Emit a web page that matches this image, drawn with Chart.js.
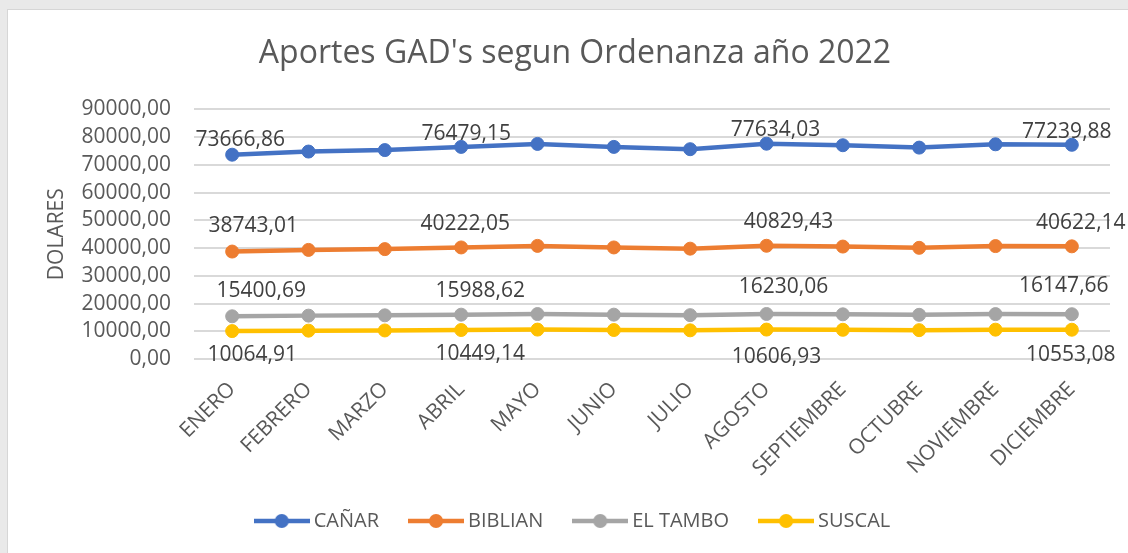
<!DOCTYPE html>
<html>
<head>
<meta charset="utf-8">
<script src="https://cdn.jsdelivr.net/npm/chart.js@4/dist/chart.umd.min.js"></script>
<style>
  html, body { margin: 0; padding: 0; width: 1128px; height: 553px; overflow: hidden; background: #e9e9e9; }
  #box { position: absolute; left: 7px; top: 9px; width: 1140px; height: 560px; background: #fff; border: 1px solid #d6d6d6; }
  #c { position: absolute; left: 0; top: 0; }
</style>
</head>
<body>
<div id="box"></div>
<canvas id="c" width="1142" height="553"></canvas>
<script>
const months = ['ENERO', 'FEBRERO', 'MARZO', 'ABRIL', 'MAYO', 'JUNIO', 'JULIO', 'AGOSTO', 'SEPTIEMBRE', 'OCTUBRE', 'NOVIEMBRE', 'DICIEMBRE'];
const canar   = [73666.86, 74800, 75330, 76479.15, 77550, 76480, 75650, 77634.03, 77080, 76220, 77420, 77239.88];
const biblian = [38743.01, 39340, 39620, 40222.05, 40790, 40220, 39790, 40829.43, 40540, 40090, 40720, 40622.14];
const tambo   = [15400.69, 15640, 15750, 15988.62, 16210, 15990, 15810, 16230.06, 16110, 15930, 16190, 16147.66];
const suscal  = [10064.91, 10220, 10290, 10449.14, 10600, 10450, 10340, 10606.93, 10530, 10410, 10580, 10553.08];
const seriesNames = ['CAÑAR', 'BIBLIAN', 'EL TAMBO', 'SUSCAL'];
const colors = ['#4472C4', '#ED7D31', '#A5A5A5', '#FFC000'];
const yTicks = [0, 10000, 20000, 30000, 40000, 50000, 60000, 70000, 80000, 90000];

// months that carry a value label
const labelIdx = [0, 3, 7, 11];
// where each label sits relative to its point [dx, dy]
const labelShift = [
  [[8, -15], [5, -13], [9, -14], [-5, -13]],
  [[21, -26], [4, -23], [22, -24], [9, -23]],
  [[29, -25], [19, -24], [17, -27], [-8, -28]],
  [[20, 24], [19, 24], [10, 27], [-1, 25]]
];

const fmt = v => v.toFixed(2).replace('.', ',');
const FONT = '"Open Sans", "DejaVu Sans", sans-serif';

// line + dot icon for the legend
function legendIcon(color) {
  const c = document.createElement('canvas');
  c.width = 56; c.height = 16;
  const g = c.getContext('2d');
  g.strokeStyle = color;
  g.lineWidth = 4.5;
  g.beginPath(); g.moveTo(0, 8); g.lineTo(56, 8); g.stroke();
  g.fillStyle = color;
  g.beginPath(); g.arc(28, 8, 7, 0, Math.PI * 2); g.fill();
  return c;
}
const icons = colors.map(legendIcon);

const pointLabels = {
  id: 'pointLabels',
  afterDatasetsDraw(chart) {
    const ctx = chart.ctx;
    ctx.save();
    ctx.font = '21px ' + FONT;
    ctx.fillStyle = '#404040';
    ctx.textAlign = 'center';
    ctx.textBaseline = 'middle';
    chart.data.datasets.forEach((ds, d) => {
      const meta = chart.getDatasetMeta(d);
      labelIdx.forEach((i, k) => {
        const p = meta.data[i];
        const s = labelShift[d][k];
        ctx.fillText(fmt(ds.data[i]), p.x + s[0], p.y + s[1]);
      });
    });
    ctx.restore();
  }
};

const allData = [canar, biblian, tambo, suscal];
const datasets = allData.map((arr, i) => ({
  label: seriesNames[i],
  data: arr,
  borderColor: colors[i],
  backgroundColor: colors[i],
  pointBackgroundColor: colors[i],
  pointBorderColor: colors[i],
  borderWidth: 4.5,
  pointRadius: 6.5,
  pointBorderWidth: 1,
  tension: 0,
  fill: false
}));

new Chart(document.getElementById('c'), {
  type: 'line',
  data: { labels: months, datasets: datasets },
  plugins: [pointLabels],
  options: {
    responsive: false,
    animation: false,
    devicePixelRatio: 1,
    layout: { padding: { top: 10, left: 8, right: 0, bottom: 12 } },
    plugins: {
      title: {
        display: true,
        text: "Aportes GAD's segun Ordenanza año 2022",
        color: '#595959',
        font: { family: FONT, size: 32, weight: 'normal' },
        padding: { top: 25, bottom: 36 }
      },
      legend: {
        position: 'bottom',
        labels: {
          color: '#595959',
          font: { family: FONT, size: 20 },
          usePointStyle: true,
          pointStyleWidth: 44,
          padding: 35,
          generateLabels(chart) {
            const items = Chart.defaults.plugins.legend.labels.generateLabels(chart);
            items.forEach((it, i) => { it.pointStyle = icons[i]; });
            return items;
          }
        }
      },
      tooltip: { enabled: false }
    },
    scales: {
      x: {
        offset: true,
        grid: { display: false },
        border: { display: false },
        ticks: {
          color: '#595959',
          font: { family: FONT, size: 21 },
          minRotation: 45,
          maxRotation: 45,
          autoSkip: false,
          padding: 10
        },
        afterFit(s) { s.height = 117; }
      },
      y: {
        min: 0,
        max: 90000,
        afterBuildTicks(s) { s.ticks = yTicks.map(v => ({ value: v })); },
        grid: { color: '#d9d9d9', lineWidth: 2, drawTicks: false },
        border: { display: false },
        ticks: {
          color: '#595959',
          font: { family: FONT, size: 21 },
          padding: 23,
          autoSkip: false,
          callback: v => fmt(v)
        },
        title: {
          display: true,
          text: 'DOLARES',
          color: '#595959',
          font: { family: FONT, size: 21, weight: 'normal' },
          padding: { top: 36, bottom: 0 }
        },
        afterFit(s) { s.width = 186; }
      },
      yR: {
        position: 'right',
        display: true,
        grid: { display: false },
        border: { display: false },
        ticks: { display: false },
        afterFit(s) { s.width = 32; }
      }
    }
  }
});
</script>
</body>
</html>
